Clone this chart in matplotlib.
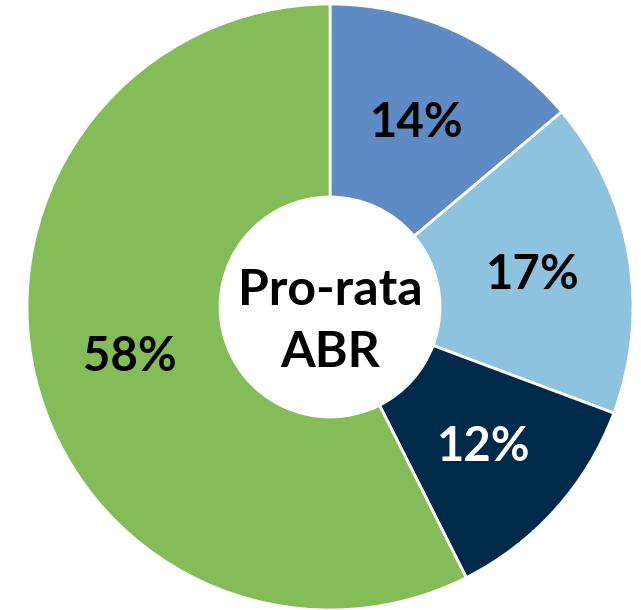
import matplotlib
matplotlib.use("Agg")
import matplotlib.pyplot as plt
import numpy as np

labels = ["14%", "17%", "12%", "58%"]
values = [14, 17, 12, 58]
colors = ["#5f8bc4", "#8ec3df", "#002a4a", "#84bc58"]
text_colors = ["black", "black", "white", "black"]
center_lines = ["Pro-rata", "ABR"]

W, H = 641, 610
fig = plt.figure(figsize=(W / 100, H / 100), dpi=100)
cx, cy, R = 330, 307, 303
ax = fig.add_axes([(cx - R) / W, (H - cy - R) / H, 2 * R / W, 2 * R / H])

wedges, _ = ax.pie(values, radius=1, startangle=90, counterclock=False, colors=colors,
                   wedgeprops=dict(width=1 - 0.363, edgecolor="white", linewidth=2))
ax.set_xlim(-1, 1)
ax.set_ylim(-1, 1)
ax.set_aspect("equal")
ax.axis("off")

total = sum(values)
cum = 0
for v, lab, tc in zip(values, labels, text_colors):
    mid = 90 - (cum + v / 2) / total * 360
    cum += v
    r = 0.68
    ax.text(r * np.cos(np.radians(mid)), r * np.sin(np.radians(mid)) - 0.055, lab,
            ha="center", va="baseline", fontsize=34, fontweight="bold",
            family="Lato", color=tc)

for line, yb in zip(center_lines, [0.005, -0.198]):
    ax.text(0, yb, line, ha="center", va="baseline", fontsize=36, fontweight="bold",
            family="Lato", color="black")

fig.savefig("out.png", dpi=100, facecolor="white")
